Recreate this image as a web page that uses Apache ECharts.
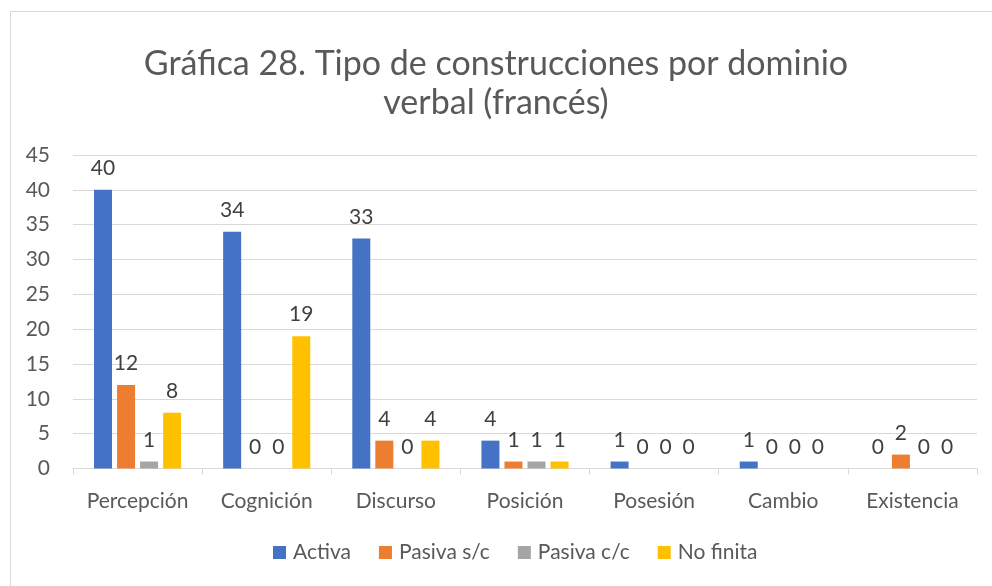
<!DOCTYPE html>
<html>
<head>
<meta charset="utf-8">
<script src="https://cdn.jsdelivr.net/npm/echarts@6/dist/echarts.min.js"></script>
<style>
	html, body { margin: 0; padding: 0; background: #ffffff; overflow: hidden; }
	#frame { position: absolute; left: 10px; top: 11px; width: 1000px; height: 600px; border: 1px solid #d9d9d9; }
	#chart { position: absolute; left: 0; top: 0; width: 992px; height: 586px; }
</style>
</head>
<body>
<div id="frame"></div>
<div id="chart"></div>
<script>
var categories = ['Percepción', 'Cognición', 'Discurso', 'Posición', 'Posesión', 'Cambio', 'Existencia'];
var seriesNames = ['Activa', 'Pasiva s/c', 'Pasiva c/c', 'No finita'];
var activa = [40, 34, 33, 4, 1, 1, 0];
var pasivaSC = [12, 0, 4, 1, 0, 0, 2];
var pasivaCC = [1, 0, 0, 1, 0, 0, 0];
var noFinita = [8, 19, 4, 1, 0, 0, 0];
var colors = ['#4472C4', '#ED7D31', '#A5A5A5', '#FFC000'];

var font = 'Lato';

function makeSeries(name, data, color)
{
	return {
		name: name,
		type: 'bar',
		data: data,
		barWidth: 18,
		barGap: '28%',
		itemStyle: { color: color },
		label: {
			show: true,
			position: 'top',
			distance: 11,
			color: '#404040',
			fontSize: 21,
			fontFamily: font
		}
	};
}

var chart = echarts.init(document.getElementById('chart'));

var option = {
	animation: false,
	textStyle: { fontFamily: font },
	title: {
		text: 'Gráfica 28. Tipo de construcciones por dominio\nverbal (francés)',
		left: 'center',
		top: 40,
		textStyle: {
			color: '#595959',
			fontSize: 34,
			fontWeight: 'normal',
			fontFamily: font,
			lineHeight: 39
		}
	},
	legend: {
		bottom: 18,
		left: 268,
		itemWidth: 13,
		itemHeight: 13,
		itemGap: 28,
		icon: 'rect',
		data: seriesNames,
		textStyle: { color: '#595959', fontSize: 21, fontFamily: font, padding: [0, 0, 0, 2] }
	},
	grid: {
		left: 73,
		right: 15,
		top: 155,
		bottom: 117.5,
		containLabel: false
	},
	xAxis: {
		type: 'category',
		data: categories,
		axisLine: { lineStyle: { color: '#d9d9d9', width: 1 } },
		axisTick: { show: true, length: 6, lineStyle: { color: '#d9d9d9' } },
		axisLabel: { interval: 0, color: '#595959', fontSize: 21, fontFamily: font, margin: 22 }
	},
	yAxis: {
		type: 'value',
		min: 0,
		max: 45,
		interval: 5,
		axisLine: { show: false },
		axisTick: { show: false },
		splitLine: { lineStyle: { color: '#d9d9d9', width: 1 } },
		axisLabel: { color: '#595959', fontSize: 21, fontFamily: font, margin: 23 }
	},
	series: [
		makeSeries(seriesNames[0], activa, colors[0]),
		makeSeries(seriesNames[1], pasivaSC, colors[1]),
		makeSeries(seriesNames[2], pasivaCC, colors[2]),
		makeSeries(seriesNames[3], noFinita, colors[3])
	]
};

chart.setOption(option);
</script>
</body>
</html>
